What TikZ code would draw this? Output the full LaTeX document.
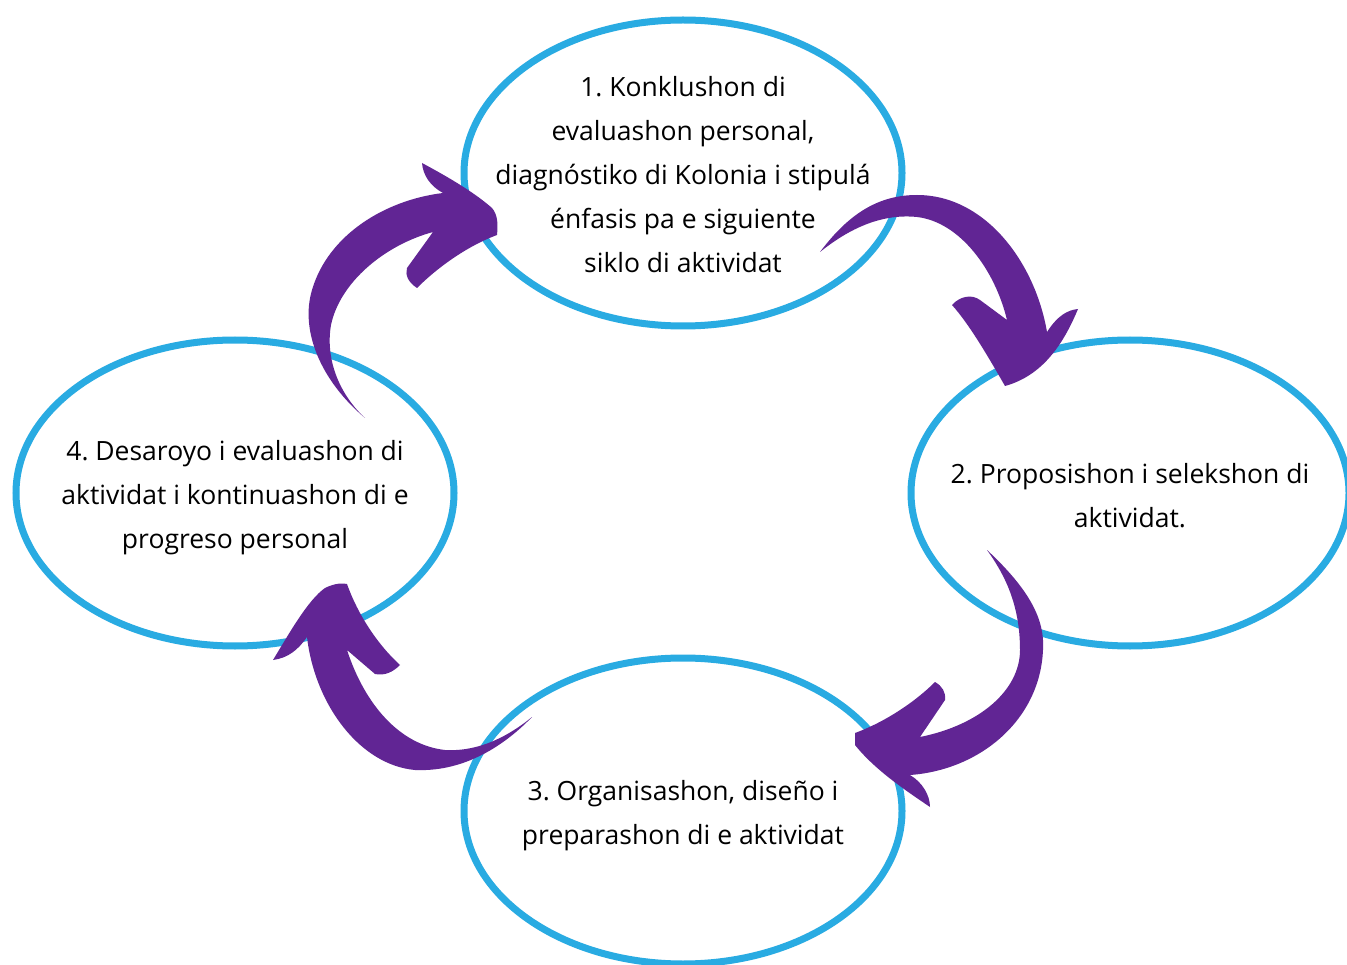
\documentclass[tikz,border=0pt]{standalone}
\usepackage{fontspec}
\setmainfont{Open Sans}
\usetikzlibrary{shapes.geometric}
\definecolor{ringblue}{RGB}{41,171,226}
\definecolor{arrowpurple}{RGB}{97,37,148}
\tikzset{
  ring/.style={ellipse, draw=ringblue, line width=7pt, minimum width=438pt, minimum height=306pt, inner sep=0pt},
  ringtext/.style={align=center, inner sep=0pt, font=\fontsize{26.5}{44}\selectfont\frenchspacing, text=black},
  brush/.style={fill=arrowpurple, draw=none}
}
\begin{document}
\begin{tikzpicture}[x=1pt,y=-1pt]
\clip (0,0) rectangle (1347,965);
\fill[white] (0,0) rectangle (1347,965);
\node[ring] (n1) at (683,173) {};
\node[ring] (n2) at (1130,493) {};
\node[ring] (n3) at (683,811) {};
\node[ring] (n4) at (235,493) {};
\node[ringtext] (t1) at (683,175) {1. Konklushon di\\evaluashon personal,\\diagnóstiko di Kolonia i stipulá\\énfasis pa e siguiente\\siklo di aktividat};
\node[ringtext] (t2) at (1130,496) {2. Proposishon i selekshon di\\aktividat.};
\node[ringtext] (t3) at (683,816) {3. Organisashon, diseño i\\preparashon di e aktividat};
\node[ringtext] (t4) at (235,498) {4. Desaroyo i evaluashon di\\aktividat i kontinuashon di e\\progreso personal};
% arrow 1 -> 2
\path[brush] (820,252) .. controls (850,212) and (880,195) .. (917,195)
  .. controls (985,195) and (1035,262) .. (1047,332)
  .. controls (1058,315) and (1068,310) .. (1078,309)
  .. controls (1065,340) and (1045,375) .. (1005,386)
  .. controls (990,360) and (970,325) .. (952,305)
  .. controls (960,296) and (972,294) .. (980,300)
  -- (1007,320)
  .. controls (995,270) and (960,222) .. (917,217)
  .. controls (878,213) and (845,232) .. (820,252) -- cycle;
% arrow 2 -> 3
\path[brush] (987,550) .. controls (1030,590) and (1045,620) .. (1043,650)
  .. controls (1040,720) and (980,770) .. (910,775)
  .. controls (922,782) and (930,795) .. (930,807)
  .. controls (905,790) and (875,770) .. (855,745)
  -- (855,733)
  .. controls (885,722) and (915,702) .. (935,682)
  .. controls (942,686) and (946,692) .. (945,700)
  -- (920,737)
  .. controls (980,725) and (1020,690) .. (1020,650)
  .. controls (1020,605) and (1005,575) .. (987,550) -- cycle;
% arrow 3 -> 4
\path[brush] (532,717) .. controls (500,750) and (460,772) .. (415,770)
  .. controls (360,765) and (315,705) .. (307,637)
  .. controls (298,650) and (288,658) .. (273,660)
  .. controls (290,632) and (308,600) .. (325,588)
  .. controls (335,583) and (343,583) .. (347,584)
  .. controls (358,615) and (378,645) .. (400,665)
  .. controls (393,672) and (385,676) .. (375,674)
  -- (347,650)
  .. controls (365,705) and (400,745) .. (445,750)
  .. controls (480,752) and (510,735) .. (532,717) -- cycle;
% arrow 4 -> 1
\path[brush] (365,418) .. controls (320,380) and (300,330) .. (312,290)
  .. controls (328,235) and (385,200) .. (443,193)
  .. controls (430,186) and (423,175) .. (422,163)
  .. controls (450,178) and (475,193) .. (492,208)
  .. controls (498,215) and (498,225) .. (497,235)
  .. controls (470,245) and (440,265) .. (417,288)
  .. controls (408,282) and (405,275) .. (407,268)
  -- (433,232)
  .. controls (385,245) and (340,282) .. (331,325)
  .. controls (325,360) and (340,395) .. (365,418) -- cycle;
\end{tikzpicture}
\end{document}
